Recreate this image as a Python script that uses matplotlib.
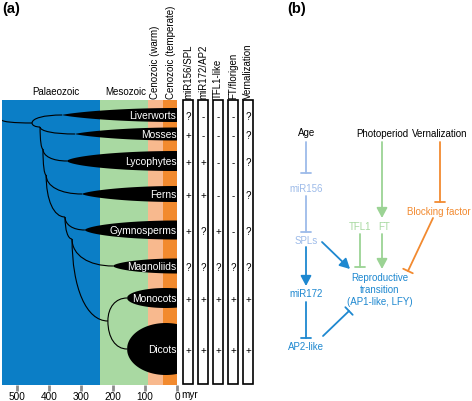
import numpy as np
import matplotlib
matplotlib.use("Agg")
import matplotlib.pyplot as plt
from matplotlib.path import Path
from matplotlib.patches import PathPatch, Rectangle, Polygon

plt.rcParams['font.family'] = ['Liberation Sans', 'DejaVu Sans']

# ---- data (panel a) ----
clades = ["Liverworts", "Mosses", "Lycophytes", "Ferns", "Gymnosperms",
          "Magnoliids", "Monocots", "Dicots"]
clade_origin = [359, 319, 344, 297, 288, 200, 156, 156]   # myr, start of black lineage

eras = ["Palaeozoic", "Mesozoic", "Cenozoic (warm)", "Cenozoic (temperate)"]
era_start = [547, 240, 90, 44]
era_end = [240, 90, 44, 0]

traits = ["miR156/SPL", "miR172/AP2", "TFL1-like", "FT/florigen", "Vernalization"]
presence = [
    ["?", "-", "-", "-", "?"],
    ["+", "-", "-", "-", "?"],
    ["+", "+", "-", "-", "?"],
    ["+", "+", "-", "-", "?"],
    ["+", "?", "+", "-", "?"],
    ["?", "?", "?", "?", "?"],
    ["+", "+", "+", "+", "+"],
    ["+", "+", "+", "+", "+"],
]

# internal nodes: (age myr, row)
tree_nodes = {
    "root": (547, 121), "n1": (453, 124), "n2": (428, 128), "n3": (419, 150),
    "n4": (409, 176), "n5": (350, 218), "n6": (328, 240), "n7": (216, 322),
}
tree_edges = [("root", "n1"), ("n1", "Liverworts"), ("n1", "n2"), ("n2", "Mosses"),
              ("n2", "n3"), ("n3", "Lycophytes"), ("n3", "n4"), ("n4", "Ferns"),
              ("n4", "n5"), ("n5", "Gymnosperms"), ("n5", "n6"), ("n6", "Magnoliids"),
              ("n6", "n7"), ("n7", "Monocots"), ("n7", "Dicots")]

ticks = [500, 400, 300, 200, 100, 0]

# ---- layout / style ----
row_y = [116, 135, 162, 195, 231, 267, 299, 350]
half_h = [7, 6.5, 10, 8, 9.5, 7.5, 10, 26]
shape_c = [0, 0, 0, 0, 0, 0, 35, 35]
shape_p = [0.8, 0.8, 0.6, 0.7, 0.6, 0.6, 0.5, 0.5]
era_colors = ['#0b7ec6', '#a9d9a2', '#f8b98e', '#f28a2e']

fig = plt.figure(figsize=(4.72, 4.02), dpi=100)

ax = fig.add_axes([2 / 472, 1 - 386 / 402, 175 / 472, 285 / 402])
ax.set_xlim(547, 0)
ax.set_ylim(386, 101)
for s, e, c in zip(era_start, era_end, era_colors):
    ax.axvspan(s, e, color=c, lw=0, zorder=0)

for i, name in enumerate(clades):
    x = np.linspace(clade_origin[i], 0, 200)
    u = (x - shape_c[i]) / (clade_origin[i] - shape_c[i])
    h = half_h[i] * np.clip(1 - u ** 2, 0, None) ** shape_p[i]
    pts = np.concatenate([np.column_stack([x, row_y[i] - h]),
                          np.column_stack([x[::-1], row_y[i] + h[::-1]])])
    ax.add_patch(Polygon(pts, closed=True, fc='black', ec='none', zorder=2))
    ax.text(2, row_y[i], name, color='white', fontsize=7.4, ha='right', va='center', zorder=3)

pos = dict(tree_nodes)
for i, name in enumerate(clades):
    pos[name] = (clade_origin[i], row_y[i])
for a, b in tree_edges:
    (x0, y0), (x1, y1) = pos[a], pos[b]
    verts = [(x0, y0), (x0, y0 + 0.6 * (y1 - y0)), (x0 + 0.4 * (x1 - x0), y1), (x1, y1)]
    path = Path(verts, [Path.MOVETO, Path.CURVE4, Path.CURVE4, Path.CURVE4])
    ax.add_patch(PathPatch(path, fc='none', ec='black', lw=0.8, zorder=1))

era_lab_x = [378, 159, 69, 19]
for i, e in enumerate(eras):
    if i < 2:
        ax.text(era_lab_x[i], 97, e, fontsize=7, ha='center', va='bottom', clip_on=False)
    else:
        ax.text(era_lab_x[i], 99, e, fontsize=7, ha='center', va='bottom',
                rotation=90, clip_on=False)

for sp in ax.spines.values():
    sp.set_visible(False)
ax.set_yticks([])
ax.set_xticks(ticks)
ax.set_xticklabels([str(t) for t in ticks])
ax.tick_params(axis='x', length=4, width=2, color='#8c8c8c', labelsize=7.2, pad=0.5)

# overlay in pixel coordinates
ov = fig.add_axes([0, 0, 1, 1])
ov.set_xlim(0, 472)
ov.set_ylim(402, 0)
ov.axis('off')

ov.text(181, 395.5, "myr", fontsize=7.2, ha='left', va='center')
ov.text(11, 9, "(a)", fontsize=10.5, fontweight='bold', ha='center', va='center')
ov.text(297, 9, "(b)", fontsize=10.5, fontweight='bold', ha='center', va='center')

for j, t in enumerate(traits):
    x0 = 183 + 15 * j
    ov.add_patch(Rectangle((x0, 101), 10, 284, fc='white', ec='black', lw=1.2))
    ov.text(x0 + 5, 99, t, fontsize=7, rotation=90, ha='center', va='bottom')
    for i in range(len(clades)):
        ov.text(x0 + 5, row_y[i] + 1, presence[i][j], fontsize=7, ha='center', va='center')

# ---- panel b ----
lblue = '#9dbbe9'
blue = '#1e88d0'
green = '#9bd394'
orange = '#f28a30'

labels_b = [
    ("Age", 307, 133, 'black'), ("Photoperiod", 382, 134, 'black'),
    ("Vernalization", 440, 134, 'black'), ("miR156", 306, 189, lblue),
    ("SPLs", 306, 241, lblue), ("miR172", 306, 294, blue),
    ("AP2-like", 306, 347, blue), ("TFL1", 360, 227, '#a8d9a1'),
    ("FT", 384, 227, '#a8d9a1'), ("Blocking factor", 439, 212, orange),
    ("Reproductive\ntransition\n(AP1-like, LFY)", 380, 290, blue),
]
for t, x, y, c in labels_b:
    ov.text(x, y, t, color=c, fontsize=7, ha='center', va='center', linespacing=1.25)

links = [
    ((306, 143), (306, 174), 'T', lblue), ((306, 197), (306, 233), 'T', lblue),
    ((306, 248), (306, 287), 'A', blue), ((306, 303), (306, 339), 'T', blue),
    ((323, 337), (349, 312), 'T', blue), ((322, 243), (350, 270), 'A', blue),
    ((382, 143), (382, 219), 'A', green), ((360, 235), (360, 268), 'T', green),
    ((382, 235), (382, 270), 'A', green), ((440, 143), (440, 203), 'T', orange),
    ((433, 219), (408, 272), 'T', orange),
]
for p0, p1, kind, c in links:
    if kind == 'A':
        style = '-|>,head_length=0.6,head_width=0.32'
    else:
        style = '-[,widthB=0.38,lengthB=0'
    ov.annotate("", xy=p1, xytext=p0,
                arrowprops=dict(arrowstyle=style, color=c, lw=1.3,
                                shrinkA=0, shrinkB=0))

fig.savefig("out.png", dpi=100)
